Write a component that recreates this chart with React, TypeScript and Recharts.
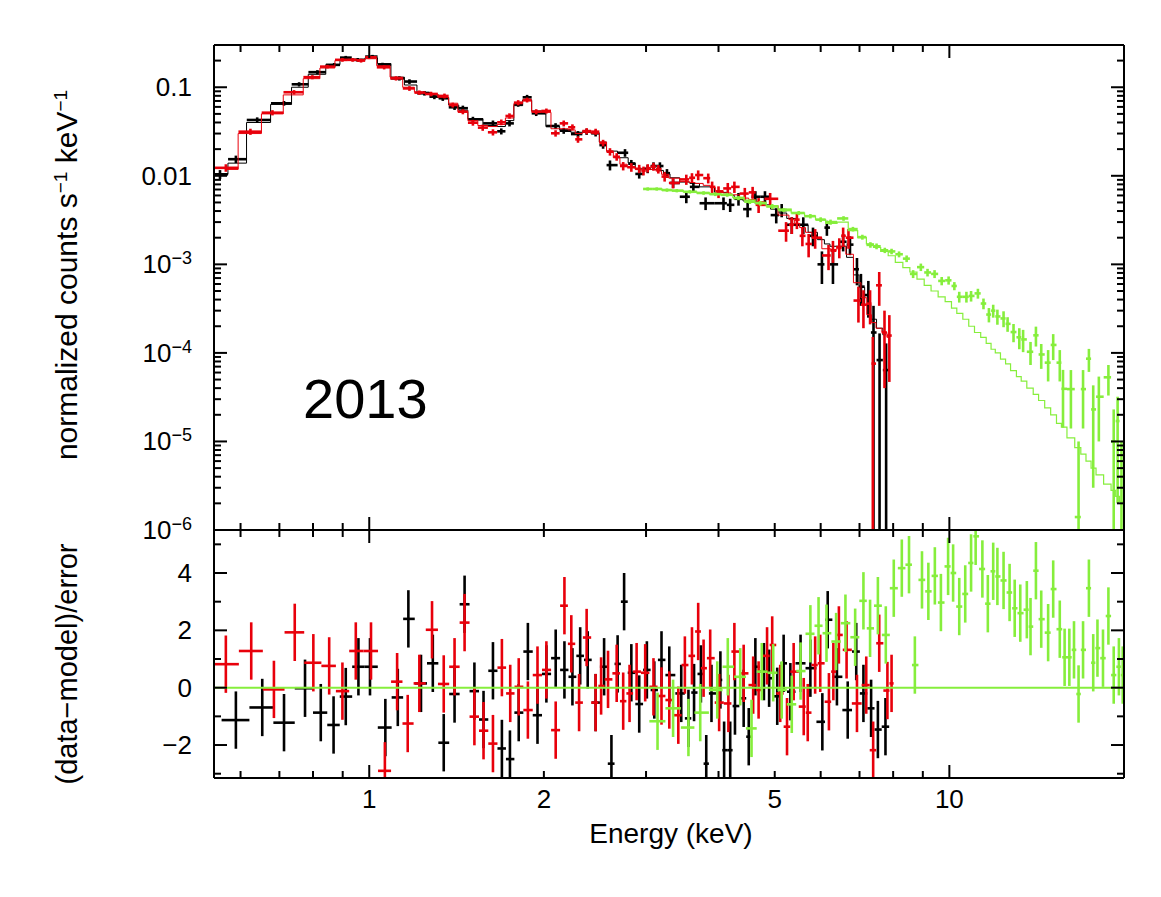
import React from 'react';
import { ComposedChart, Scatter, Line, XAxis, YAxis, ErrorBar } from 'recharts';

// ---------- data ----------
// [energy keV, normalized counts, 1-sigma]
const blackData: number[][] = [
  [0.553, 0.0104, 0.0012], [0.589, 0.0154, 0.0015], [0.641, 0.0427, 0.003], [0.713, 0.0659, 0.004],
  [0.757, 0.108, 0.006], [0.814, 0.148, 0.008], [0.870, 0.179, 0.009], [0.911, 0.216, 0.01],
  [0.955, 0.204, 0.01], [1.013, 0.222, 0.01], [1.054, 0.180, 0.009], [1.127, 0.126, 0.007],
  [1.173, 0.116, 0.007], [1.245, 0.0855, 0.005], [1.295, 0.0783, 0.005], [1.339, 0.0751, 0.005],
  [1.403, 0.0594, 0.004], [1.45, 0.058, 0.004], [1.509, 0.0434, 0.003], [1.634, 0.0391, 0.003],
  [1.689, 0.0318, 0.0025], [1.745, 0.0391, 0.003], [1.806, 0.0642, 0.004], [1.871, 0.077, 0.005],
  [1.94, 0.0508, 0.0035], [2.095, 0.0365, 0.0028], [2.164, 0.0323, 0.0025], [2.29, 0.0296, 0.0024],
  [2.37, 0.0315, 0.0025], [2.456, 0.0302, 0.0024], [2.53, 0.0222, 0.002], [2.6, 0.0132, 0.0017],
  [2.76, 0.0182, 0.0018], [2.83, 0.0137, 0.0014], [2.92, 0.0105, 0.0012], [3.02, 0.012, 0.0013],
  [3.09, 0.0129, 0.0013], [3.17, 0.0129, 0.0013], [3.26, 0.0107, 0.0012], [3.34, 0.0083, 0.001],
  [3.52, 0.0058, 0.0009], [3.62, 0.0075, 0.001], [3.80, 0.0049, 0.0008], [4.08, 0.0049, 0.0008],
  [4.19, 0.0047, 0.0008], [4.33, 0.0055, 0.0009], [4.49, 0.0042, 0.0008], [4.63, 0.0058, 0.0009],
  [4.81, 0.0058, 0.0009], [5.03, 0.0036, 0.0007], [5.14, 0.0041, 0.0007], [5.35, 0.0028, 0.0006],
  [5.6, 0.0028, 0.0006], [5.82, 0.0021, 0.0005], [6.03, 0.0010, 0.0004], [6.15, 0.0026, 0.0005],
  [6.3, 0.0010, 0.0004], [6.56, 0.0018, 0.0004], [6.74, 0.00167, 0.0004], [6.93, 0.00088, 0.0003],
  [7.04, 0.00056, 0.00022], [7.25, 0.00045, 0.0002], [7.40, 0.00017, 0.00017], [7.58, 0.000083, 0.000083],
  [7.78, 0.000064, 0.000064],
];
const blackModel: number[][] = [
  [0.553, 0.0104], [0.589, 0.0139], [0.641, 0.040], [0.713, 0.064], [0.757, 0.100], [0.814, 0.140],
  [0.870, 0.180], [0.911, 0.205], [0.955, 0.206], [1.013, 0.215], [1.054, 0.185], [1.127, 0.130],
  [1.173, 0.106], [1.245, 0.088], [1.295, 0.082], [1.339, 0.076], [1.403, 0.063], [1.45, 0.055],
  [1.509, 0.044], [1.634, 0.037], [1.689, 0.036], [1.745, 0.042], [1.806, 0.062], [1.871, 0.072],
  [1.94, 0.054], [2.095, 0.036], [2.164, 0.033], [2.29, 0.031], [2.37, 0.031], [2.456, 0.030],
  [2.53, 0.024], [2.6, 0.019], [2.76, 0.016], [2.83, 0.014], [2.92, 0.012], [3.02, 0.012],
  [3.09, 0.0118], [3.17, 0.0115], [3.26, 0.0105], [3.34, 0.0095], [3.52, 0.0085], [3.62, 0.0082],
  [3.80, 0.0075], [4.08, 0.0065], [4.19, 0.006], [4.33, 0.0056], [4.49, 0.0052], [4.63, 0.005],
  [4.81, 0.0047], [5.03, 0.0042], [5.14, 0.0038], [5.35, 0.0033], [5.6, 0.0028], [5.82, 0.0023],
  [6.03, 0.0019], [6.15, 0.0017], [6.3, 0.0016], [6.56, 0.0016], [6.74, 0.0012], [6.93, 0.00076],
  [7.04, 0.00055], [7.25, 0.00035], [7.40, 0.00024], [7.58, 0.00019], [7.78, 0.00016],
];
const redData: number[][] = [
  [0.566, 0.0123, 0.0012], [0.624, 0.0315, 0.0025], [0.681, 0.0516, 0.0035], [0.742, 0.0878, 0.005],
  [0.798, 0.130, 0.007], [0.847, 0.171, 0.008], [0.899, 0.204, 0.01], [0.936, 0.204, 0.01],
  [0.968, 0.200, 0.01], [1.0, 0.218, 0.01], [1.061, 0.168, 0.009], [1.112, 0.126, 0.007],
  [1.173, 0.097, 0.006], [1.22, 0.087, 0.005], [1.278, 0.084, 0.005], [1.348, 0.0798, 0.005],
  [1.393, 0.063, 0.004], [1.45, 0.053, 0.0035], [1.509, 0.0398, 0.003], [1.569, 0.035, 0.0028],
  [1.634, 0.031, 0.0025], [1.689, 0.0402, 0.003], [1.745, 0.0474, 0.0033], [1.806, 0.067, 0.0045],
  [1.871, 0.0718, 0.0045], [1.94, 0.053, 0.0035], [2.02, 0.054, 0.0035], [2.095, 0.0302, 0.0025],
  [2.164, 0.0391, 0.003], [2.24, 0.0353, 0.0028], [2.29, 0.0258, 0.0022], [2.37, 0.032, 0.0025],
  [2.456, 0.0315, 0.0025], [2.53, 0.0235, 0.002], [2.6, 0.0187, 0.0018], [2.67, 0.0164, 0.0016],
  [2.74, 0.0129, 0.0014], [2.83, 0.0125, 0.0014], [2.92, 0.012, 0.0013], [2.97, 0.0114, 0.0013],
  [3.02, 0.0122, 0.0013], [3.09, 0.0127, 0.0013], [3.15, 0.0119, 0.0013], [3.23, 0.0098, 0.0012],
  [3.34, 0.0083, 0.0011], [3.52, 0.0091, 0.0012], [3.60, 0.0095, 0.0012], [3.69, 0.0102, 0.0013],
  [3.84, 0.0094, 0.0012], [3.9, 0.0075, 0.0011], [4.0, 0.0066, 0.001], [4.15, 0.0072, 0.0011],
  [4.26, 0.0075, 0.0011], [4.44, 0.0063, 0.001], [4.58, 0.0065, 0.001], [4.69, 0.0047, 0.0009],
  [4.91, 0.0055, 0.0009], [5.23, 0.0024, 0.0006], [5.35, 0.0028, 0.0006], [5.46, 0.0032, 0.0007],
  [5.58, 0.0021, 0.0005], [5.72, 0.0017, 0.0005], [5.87, 0.0020, 0.0005], [6.19, 0.00126, 0.0004],
  [6.3, 0.00144, 0.0004], [6.46, 0.00157, 0.0004], [6.56, 0.0021, 0.0005], [6.7, 0.0020, 0.0005],
  [6.97, 0.00039, 0.00017], [7.11, 0.00035, 0.00016], [7.3, 0.00036, 0.00015], [7.38, 0.0000757, 0.0000757],
  [7.57, 0.00058, 0.00024], [7.73, 0.00017, 0.00013], [7.88, 0.000157, 0.00011],
];
const redModel: number[][] = [
  [0.566, 0.0118], [0.624, 0.030], [0.681, 0.050], [0.742, 0.082], [0.798, 0.125], [0.847, 0.165],
  [0.899, 0.20], [0.936, 0.205], [0.968, 0.205], [1.0, 0.21], [1.061, 0.175], [1.112, 0.13],
  [1.173, 0.10], [1.22, 0.088], [1.278, 0.083], [1.348, 0.077], [1.393, 0.066], [1.45, 0.053],
  [1.509, 0.042], [1.569, 0.037], [1.634, 0.036], [1.689, 0.038], [1.745, 0.045], [1.806, 0.065],
  [1.871, 0.070], [1.94, 0.053], [2.02, 0.052], [2.095, 0.034], [2.164, 0.034], [2.24, 0.033],
  [2.29, 0.030], [2.37, 0.031], [2.456, 0.030], [2.53, 0.024], [2.6, 0.019], [2.67, 0.016],
  [2.74, 0.0135], [2.83, 0.0125], [2.92, 0.0118], [2.97, 0.0116], [3.02, 0.0118], [3.09, 0.0118],
  [3.15, 0.0113], [3.23, 0.0104], [3.34, 0.0094], [3.52, 0.0086], [3.60, 0.0084], [3.69, 0.0082],
  [3.84, 0.0078], [3.9, 0.0074], [4.0, 0.0068], [4.15, 0.0064], [4.26, 0.0061], [4.44, 0.0056],
  [4.58, 0.0054], [4.69, 0.0051], [4.91, 0.0046], [5.23, 0.0036], [5.35, 0.0032], [5.46, 0.0029],
  [5.58, 0.0026], [5.72, 0.0023], [5.87, 0.0020], [6.19, 0.0015], [6.3, 0.0014], [6.46, 0.0015],
  [6.56, 0.0016], [6.7, 0.0013], [6.97, 0.00062], [7.11, 0.00042], [7.3, 0.00027], [7.38, 0.00022],
  [7.57, 0.00019], [7.73, 0.00017], [7.88, 0.00015],
];
const greenData: number[][] = [
  [3.02, 0.0071, 0.0003], [3.13, 0.0071, 0.0003], [3.26, 0.0069, 0.0003], [3.39, 0.0068, 0.0003],
  [3.57, 0.0066, 0.0003], [3.77, 0.0064, 0.0003], [3.95, 0.0062, 0.0003], [4.14, 0.0061, 0.0003],
  [4.33, 0.0056, 0.0003], [4.53, 0.0051, 0.0003], [4.72, 0.0049, 0.0003], [4.95, 0.0045, 0.0003],
  [5.18, 0.0041, 0.0002], [5.5, 0.0038, 0.0002], [5.76, 0.0035, 0.0002], [6.0, 0.0032, 0.0002],
  [6.24, 0.0030, 0.0002], [6.57, 0.0033, 0.0002], [6.82, 0.0025, 0.00015], [7.08, 0.00203, 0.00013],
  [7.31, 0.00166, 0.00012], [7.49, 0.0016, 0.00012], [7.74, 0.00144, 0.0001], [7.95, 0.0014, 0.0001],
  [8.19, 0.0013, 0.0001], [8.44, 0.00116, 0.0001], [8.66, 0.00078, 0.00008], [8.93, 0.00093, 0.00009],
  [9.17, 0.00081, 0.00008], [9.43, 0.00078, 0.00008], [9.70, 0.00065, 0.00007], [9.97, 0.00066, 0.00007],
  [10.2, 0.00057, 0.00006], [10.4, 0.00043, 0.00006], [10.7, 0.00043, 0.00006], [10.9, 0.00044, 0.00006],
  [11.2, 0.00047, 0.00006], [11.45, 0.000361, 0.00005], [11.7, 0.000271, 0.00005], [11.9, 0.00030, 0.00005],
  [12.1, 0.000258, 0.00005], [12.4, 0.000245, 0.00005], [12.6, 0.000213, 0.00004], [12.9, 0.000172, 0.00004],
  [13.2, 0.00015, 0.00004], [13.4, 0.000142, 0.00004], [13.8, 0.000103, 0.00003], [14.1, 0.000158, 0.00004],
  [14.4, 0.000096, 0.00003], [14.8, 0.0000776, 0.00003], [15.1, 0.000123, 0.00004], [15.5, 0.0000776, 0.00003],
  [15.7, 0.0000393, 0.000025], [16.2, 0.000039, 0.000025], [16.7, 0.0000014, 0.0000086], [17.0, 0.000039, 0.000025],
  [17.4, 0.000086, 0.000025], [17.7, 0.000023, 0.00002], [18.1, 0.000032, 0.000022], [18.8, 0.000053, 0.00002],
  [19.2, 0.00001, 0.000013], [19.5, 0.000017, 0.000015], [19.8, 0.000004, 0.000006],
];
const greenModel: number[][] = [
  [3.02, 0.0071], [3.13, 0.0071], [3.26, 0.0069], [3.39, 0.0068], [3.57, 0.0066], [3.77, 0.0064],
  [3.95, 0.0062], [4.14, 0.006], [4.33, 0.0057], [4.53, 0.0053], [4.72, 0.005], [4.95, 0.0046],
  [5.18, 0.0042], [5.5, 0.0038], [5.76, 0.0035], [6.0, 0.0032], [6.24, 0.0029], [6.57, 0.003],
  [6.82, 0.0024], [7.08, 0.002], [7.31, 0.0017], [7.49, 0.00155], [7.74, 0.0014], [7.95, 0.00125],
  [8.19, 0.00105], [8.44, 0.00092], [8.66, 0.00082], [8.93, 0.00068], [9.17, 0.00058], [9.43, 0.0005],
  [9.70, 0.00043], [9.97, 0.00038], [10.2, 0.00032], [10.4, 0.00028], [10.7, 0.00024], [10.9, 0.0002],
  [11.2, 0.00017], [11.45, 0.00015], [11.7, 0.000128], [11.9, 0.00011], [12.1, 0.0001], [12.4, 0.000085],
  [12.6, 0.000075], [12.9, 0.000063], [13.2, 0.000054], [13.4, 0.000048], [13.8, 0.00004], [14.1, 0.000034],
  [14.4, 0.000029], [14.8, 0.000024], [15.1, 0.00002], [15.5, 0.000016], [15.7, 0.0000145], [16.2, 0.000011],
  [16.7, 0.0000085], [17.0, 0.0000072], [17.4, 0.000006], [17.7, 0.000005], [18.1, 0.0000042], [18.8, 0.0000033],
  [19.2, 0.0000028], [19.5, 0.0000024], [19.8, 0.0000021], [20.0, 0.000002],
];
// residuals [energy keV, (data-model)/error]
const blackResid: number[][] = [
  [0.589, -1.13], [0.654, -0.69], [0.713, -1.22], [0.775, -0.02], [0.825, -0.87], [0.868, -1.3],
  [0.911, -0.31], [0.958, 0.73], [1.003, 0.73], [1.066, -1.39], [1.12, -0.34], [1.168, 2.4],
  [1.228, 0.15], [1.287, 0.85], [1.344, -1.92], [1.403, -0.22], [1.46, 2.91], [1.518, -0.12],
  [1.574, -1.11], [1.634, 0.59], [1.693, -2.12], [1.748, -2.49], [1.81, -0.87], [1.877, 1.26],
  [1.95, -0.96], [2.02, 0.48], [2.096, 1.03], [2.17, 0.62], [2.24, 0.38], [2.31, 1.11],
  [2.38, 0.97], [2.456, -0.52], [2.54, 0.73], [2.615, -2.65], [2.68, 0.83], [2.75, 3.0],
  [2.83, 0.52], [2.92, -0.57], [3.01, 0.62], [3.1, -0.08], [3.19, 0.97], [3.29, 0.44],
  [3.45, -0.2], [3.55, -1.07], [3.63, -0.17], [3.73, 0.48], [3.81, -2.65], [3.89, -0.2],
  [4.03, 0.27], [4.09, -2.18], [4.19, -2.18], [4.27, -0.64], [4.42, -0.37], [4.51, -1.71],
  [4.63, 0.73], [4.79, 0.56], [4.89, 0.33], [5.05, -0.3], [5.18, 0.85], [5.32, -0.14],
  [5.54, 0.85], [5.76, 0.68], [6.04, -1.19], [6.17, 2.37], [6.4, 0.38], [6.68, -0.78],
  [6.91, 1.26], [7.11, -0.2], [7.33, -0.72], [7.53, -1.46], [7.76, -1.36],
];
const redResid: number[][] = [
  [0.566, 0.82], [0.626, 1.28], [0.685, -0.06], [0.744, 1.93], [0.801, 0.87], [0.853, 0.76],
  [0.899, -0.12], [0.948, 1.28], [1.007, 1.28], [1.064, -2.9], [1.117, 0.21], [1.165, -1.25],
  [1.22, 0.15], [1.283, 2.02], [1.344, 0.13], [1.403, 0.73], [1.46, 2.27], [1.518, -1.01],
  [1.574, -1.5], [1.634, -1.95], [1.693, 0.7], [1.75, -0.2], [1.81, 0.03], [1.877, -0.78],
  [1.95, 0.44], [2.02, 0.62], [2.096, -1.48], [2.17, 2.86], [2.23, 1.53], [2.30, -0.52],
  [2.37, 1.75], [2.456, -0.52], [2.51, 0.06], [2.58, 0.29], [2.67, 0.5], [2.74, -0.47],
  [2.81, -0.2], [2.89, 0.56], [2.99, 0.52], [3.09, 0.03], [3.19, -0.29], [3.29, -0.43],
  [3.41, -0.96], [3.5, 0.79], [3.6, 1.11], [3.69, 1.96], [3.77, 0.68], [3.87, 1.03],
  [4.01, -0.52], [4.16, -0.55], [4.26, 1.26], [4.42, 0.5], [4.59, 0.09], [4.69, -0.08],
  [4.85, 1.11], [4.95, 1.49], [5.11, -0.2], [5.25, -1.36], [5.39, 0.56], [5.61, -0.66],
  [5.7, -0.87], [5.87, 0.79], [5.99, 0.85], [6.2, -0.49], [6.31, 0.56], [6.45, 1.84],
  [6.65, 1.32], [6.93, -0.55], [7.19, 0.09], [7.39, -2.18], [7.57, 1.55], [7.82, -0.1], [7.95, 0.15],
];
const greenResid: number[][] = [
  [3.14, -1.17], [3.34, -0.72], [3.55, -1.39], [3.72, -0.87], [3.98, -0.08], [4.15, 0.73],
  [4.36, 0.38], [4.56, -1.42], [4.75, 0.56], [4.97, 0.52], [5.14, -0.08], [5.35, -0.58],
  [5.54, 0.58], [5.76, 1.88], [5.95, 2.16], [6.14, 1.9], [6.38, 1.61], [6.62, 2.25],
  [6.88, 1.76], [7.11, 3.03], [7.3, 2.07], [7.53, 2.86], [7.77, 1.84], [8.02, 3.47],
  [8.28, 4.17], [8.52, 4.29], [8.72, 0.79], [8.97, 3.76], [9.2, 3.36], [9.44, 3.9],
  [9.67, 2.97], [9.95, 4.23], [10.15, 4.0], [10.4, 2.83], [10.65, 3.27], [10.9, 4.35],
  [11.1, 5.28], [11.4, 4.14], [11.65, 2.93], [11.9, 4.06], [12.1, 3.88], [12.4, 3.74],
  [12.7, 3.32], [12.96, 2.77], [13.25, 2.6], [13.6, 2.72], [13.8, 2.13], [14.1, 4.08],
  [14.4, 2.39], [14.8, 1.92], [15.1, 3.44], [15.5, 2.04], [15.8, 1.06], [16.1, 1.06],
  [16.4, 1.32], [16.7, -0.22], [17.0, 1.32], [17.4, 3.47], [17.7, 0.87], [18.0, 1.38],
  [18.4, 1.03], [18.8, 2.5], [19.2, 0.44], [19.6, 0.73], [19.9, 0.44],
];
const zeroLine: number[][] = [[0.54, 0], [20, 0]];

// axes
const X_DOMAIN = [0.54, 20];
const X_TICKS = [0.6, 0.7, 0.8, 0.9, 1, 2, 3, 4, 5, 6, 7, 8, 9, 10, 20];
const X_LABELS: Record<string, string> = { '1': '1', '2': '2', '5': '5', '10': '10' };
const YT_DOMAIN = [1e-6, 0.3];
const YT_TICKS = [
  1e-6, 2e-6, 3e-6, 4e-6, 5e-6, 6e-6, 7e-6, 8e-6, 9e-6,
  1e-5, 2e-5, 3e-5, 4e-5, 5e-5, 6e-5, 7e-5, 8e-5, 9e-5,
  1e-4, 2e-4, 3e-4, 4e-4, 5e-4, 6e-4, 7e-4, 8e-4, 9e-4,
  1e-3, 2e-3, 3e-3, 4e-3, 5e-3, 6e-3, 7e-3, 8e-3, 9e-3,
  0.01, 0.02, 0.03, 0.04, 0.05, 0.06, 0.07, 0.08, 0.09,
  0.1, 0.2, 0.3,
];
const YT_LABELS: Record<string, [string, string]> = {
  '0.1': ['0.1', ''], '0.01': ['0.01', ''], '0.001': ['10', '−3'],
  '0.0001': ['10', '−4'], '0.00001': ['10', '−5'], '0.000001': ['10', '−6'],
};
const YB_DOMAIN = [-3.15, 5.5];
const YB_TICKS = [-3, -2, -1, 0, 1, 2, 3, 4, 5];
const YB_LABELS: Record<string, string> = { '-2': '−2', '0': '0', '2': '2', '4': '4' };

const BLACK = '#000000';
const RED = '#e8000b';
const GREEN = '#86ee3c';
const FONT = '"Liberation Sans", Arial, Helvetica, sans-serif';

// ---------- helpers ----------
function halfWidths(arr: number[][], i: number): [number, number] {
  const x = arr[i][0];
  const prev = i > 0 ? arr[i - 1][0] : null;
  const next = i < arr.length - 1 ? arr[i + 1][0] : null;
  let lo = prev !== null ? (x - prev) / 2 : ((next as number) - x) / 2;
  let hi = next !== null ? ((next as number) - x) / 2 : (x - (prev as number)) / 2;
  // keep bars inside the frame
  lo = Math.min(lo, x - X_DOMAIN[0]);
  hi = Math.min(hi, X_DOMAIN[1] - x);
  return [lo, hi];
}
function prepSpec(arr: number[][]) {
  return arr.map((p, i) => ({
    x: p[0], y: p[1], ex: halfWidths(arr, i),
    ey: [Math.min(p[2], p[1] - YT_DOMAIN[0]), Math.min(p[2], YT_DOMAIN[1] - p[1])],
  }));
}
function prepResid(arr: number[][]) {
  return arr.map((p, i) => ({
    x: p[0], y: p[1], ex: halfWidths(arr, i),
    ey: [Math.min(1, p[1] - YB_DOMAIN[0]), Math.min(1, YB_DOMAIN[1] - p[1])],
  }));
}
function prepLine(arr: number[][]) {
  return arr.map((p) => ({ x: p[0], y: p[1] }));
}
const isDecade = (v: number) => Math.abs(Math.log10(v) - Math.round(Math.log10(v))) < 1e-6;
const isEven = (v: number) => Math.abs(v % 2) < 1e-9;
const key = (v: number) => String(Number(v.toPrecision(6)));

const MAJ = 13;
const MIN = 7;

type Side = 'bottom' | 'top' | 'left' | 'right';
function makeTick(side: Side, major: (v: number) => boolean, label?: (v: number, x: number, y: number) => React.ReactNode) {
  return (props: any) => {
    const { x, y, payload } = props;
    const v = payload.value as number;
    const L = major(v) ? MAJ : MIN;
    let x2 = x, y2 = y;
    if (side === 'bottom') y2 = y - L;
    if (side === 'top') y2 = y + L;
    if (side === 'left') x2 = x + L;
    if (side === 'right') x2 = x - L;
    return (
      <g>
        <line x1={x} y1={y} x2={x2} y2={y2} stroke="#000" strokeWidth={2} />
        {label ? label(v, x, y) : null}
      </g>
    );
  };
}
const xLabel = (v: number, x: number, y: number) => {
  const t = X_LABELS[key(v)];
  if (!t) return null;
  return <text x={x} y={y + 30} textAnchor="middle" fontSize={26} fontFamily={FONT} fill="#000">{t}</text>;
};
const ytLabel = (v: number, x: number, y: number) => {
  const t = YT_LABELS[key(v)];
  if (!t) return null;
  return (
    <text x={x - 22} y={y + 9} textAnchor="end" fontSize={26} fontFamily={FONT} fill="#000">
      <tspan>{t[0]}</tspan>
      {t[1] ? <tspan dy={-9} fontSize={18}>{t[1]}</tspan> : null}
    </text>
  );
};
const ybLabel = (v: number, x: number, y: number) => {
  const t = YB_LABELS[key(v)];
  if (!t) return null;
  return <text x={x - 22} y={y + 9} textAnchor="end" fontSize={26} fontFamily={FONT} fill="#000">{t}</text>;
};

const noShape = () => <g />;
const axisLine = { stroke: '#000', strokeWidth: 2 };

const W = 1161;
const H = 897;

export default function App() {
  const bSpec = prepSpec(blackData);
  const rSpec = prepSpec(redData);
  const gSpec = prepSpec(greenData);
  const bRes = prepResid(blackResid);
  const rRes = prepResid(redResid);
  const gRes = prepResid(greenResid);

  const commonX = (id: string, side: 'top' | 'bottom', labels: boolean) => (
    <XAxis
      xAxisId={id}
      orientation={side}
      dataKey="x"
      type="number"
      scale="log"
      domain={X_DOMAIN}
      allowDataOverflow
      ticks={X_TICKS}
      interval={0}
      height={1}
      tickSize={0}
      tickMargin={0}
      tickLine={false}
      axisLine={axisLine}
      tick={makeTick(side, isDecade, labels ? xLabel : undefined)}
    />
  );

  const errStroke = 2.6;

  return (
    <div style={{ position: 'absolute', left: 0, top: 0, width: W, height: H, background: '#fff' }}>
      {/* top panel */}
      <div style={{ position: 'absolute', left: 0, top: 0 }}>
        <ComposedChart width={W} height={H} margin={{ top: 44, right: 36, bottom: 366, left: 0 }}>
          {commonX('b', 'bottom', false)}
          {commonX('t', 'top', false)}
          <YAxis
            yAxisId="l" orientation="left" dataKey="y" type="number" scale="log" domain={YT_DOMAIN}
            allowDataOverflow ticks={YT_TICKS} interval={0} width={214} tickSize={0} tickMargin={0}
            tickLine={false} axisLine={axisLine} tick={makeTick('left', isDecade, ytLabel)}
          />
          <YAxis
            yAxisId="r" orientation="right" dataKey="y" type="number" scale="log" domain={YT_DOMAIN}
            allowDataOverflow ticks={YT_TICKS} interval={0} width={1} tickSize={0} tickMargin={0}
            tickLine={false} axisLine={axisLine} tick={makeTick('right', isDecade)}
          />
          <Scatter data={bSpec} dataKey="y" xAxisId="b" yAxisId="l" shape={noShape} isAnimationActive={false}>
            <ErrorBar dataKey="ey" direction="y" width={0} stroke={BLACK} strokeWidth={errStroke} />
            <ErrorBar dataKey="ex" direction="x" width={0} stroke={BLACK} strokeWidth={errStroke} />
          </Scatter>
          <Line data={prepLine(blackModel)} dataKey="y" xAxisId="t" yAxisId="r" type="step" stroke={BLACK}
            strokeWidth={1} dot={false} activeDot={false} isAnimationActive={false} />
          <Scatter data={rSpec} dataKey="y" xAxisId="b" yAxisId="l" shape={noShape} isAnimationActive={false}>
            <ErrorBar dataKey="ey" direction="y" width={0} stroke={RED} strokeWidth={errStroke} />
            <ErrorBar dataKey="ex" direction="x" width={0} stroke={RED} strokeWidth={errStroke} />
          </Scatter>
          <Line data={prepLine(redModel)} dataKey="y" xAxisId="t" yAxisId="r" type="step" stroke={RED}
            strokeWidth={1} dot={false} activeDot={false} isAnimationActive={false} />
          <Scatter data={gSpec} dataKey="y" xAxisId="b" yAxisId="l" shape={noShape} isAnimationActive={false}>
            <ErrorBar dataKey="ey" direction="y" width={0} stroke={GREEN} strokeWidth={errStroke} />
            <ErrorBar dataKey="ex" direction="x" width={0} stroke={GREEN} strokeWidth={errStroke} />
          </Scatter>
          <Line data={prepLine(greenModel)} dataKey="y" xAxisId="t" yAxisId="r" type="step" stroke={GREEN}
            strokeWidth={1.2} dot={false} activeDot={false} isAnimationActive={false} />
        </ComposedChart>
      </div>

      {/* residual panel */}
      <div style={{ position: 'absolute', left: 0, top: 0 }}>
        <ComposedChart width={W} height={H} margin={{ top: 529, right: 36, bottom: 118, left: 0 }}>
          {commonX('b', 'bottom', true)}
          {commonX('t', 'top', false)}
          <YAxis
            yAxisId="l" orientation="left" dataKey="y" type="number" domain={YB_DOMAIN}
            allowDataOverflow ticks={YB_TICKS} interval={0} width={214} tickSize={0} tickMargin={0}
            tickLine={false} axisLine={axisLine} tick={makeTick('left', isEven, ybLabel)}
          />
          <YAxis
            yAxisId="r" orientation="right" dataKey="y" type="number" domain={YB_DOMAIN}
            allowDataOverflow ticks={YB_TICKS} interval={0} width={1} tickSize={0} tickMargin={0}
            tickLine={false} axisLine={axisLine} tick={makeTick('right', isEven)}
          />
          <Scatter data={bRes} dataKey="y" xAxisId="b" yAxisId="l" shape={noShape} isAnimationActive={false}>
            <ErrorBar dataKey="ey" direction="y" width={0} stroke={BLACK} strokeWidth={errStroke} />
            <ErrorBar dataKey="ex" direction="x" width={0} stroke={BLACK} strokeWidth={errStroke} />
          </Scatter>
          <Scatter data={rRes} dataKey="y" xAxisId="b" yAxisId="l" shape={noShape} isAnimationActive={false}>
            <ErrorBar dataKey="ey" direction="y" width={0} stroke={RED} strokeWidth={errStroke} />
            <ErrorBar dataKey="ex" direction="x" width={0} stroke={RED} strokeWidth={errStroke} />
          </Scatter>
          <Scatter data={gRes} dataKey="y" xAxisId="b" yAxisId="l" shape={noShape} isAnimationActive={false}>
            <ErrorBar dataKey="ey" direction="y" width={0} stroke={GREEN} strokeWidth={errStroke} />
            <ErrorBar dataKey="ex" direction="x" width={0} stroke={GREEN} strokeWidth={errStroke} />
          </Scatter>
          <Line data={prepLine(zeroLine)} dataKey="y" xAxisId="t" yAxisId="r" type="linear" stroke={GREEN}
            strokeWidth={2} dot={false} activeDot={false} isAnimationActive={false} />
        </ComposedChart>
      </div>

      {/* titles */}
      <svg width={W} height={H} style={{ position: 'absolute', left: 0, top: 0, pointerEvents: 'none' }}>
        <text x={303} y={418} fontSize={56} fontFamily={FONT} fill="#000">2013</text>
        <text transform="translate(77,275) rotate(-90)" textAnchor="middle" fontSize={30} fontFamily={FONT} fill="#000">
          <tspan>normalized counts s</tspan>
          <tspan dy={-10} fontSize={19}>−1</tspan>
          <tspan dy={10}> keV</tspan>
          <tspan dy={-10} fontSize={19}>−1</tspan>
        </text>
        <text transform="translate(77,664) rotate(-90)" textAnchor="middle" fontSize={29} fontFamily={FONT} fill="#000">
          (data−model)/error
        </text>
        <text x={671} y={843} textAnchor="middle" fontSize={28} fontFamily={FONT} fill="#000">Energy (keV)</text>
      </svg>
    </div>
  );
}
